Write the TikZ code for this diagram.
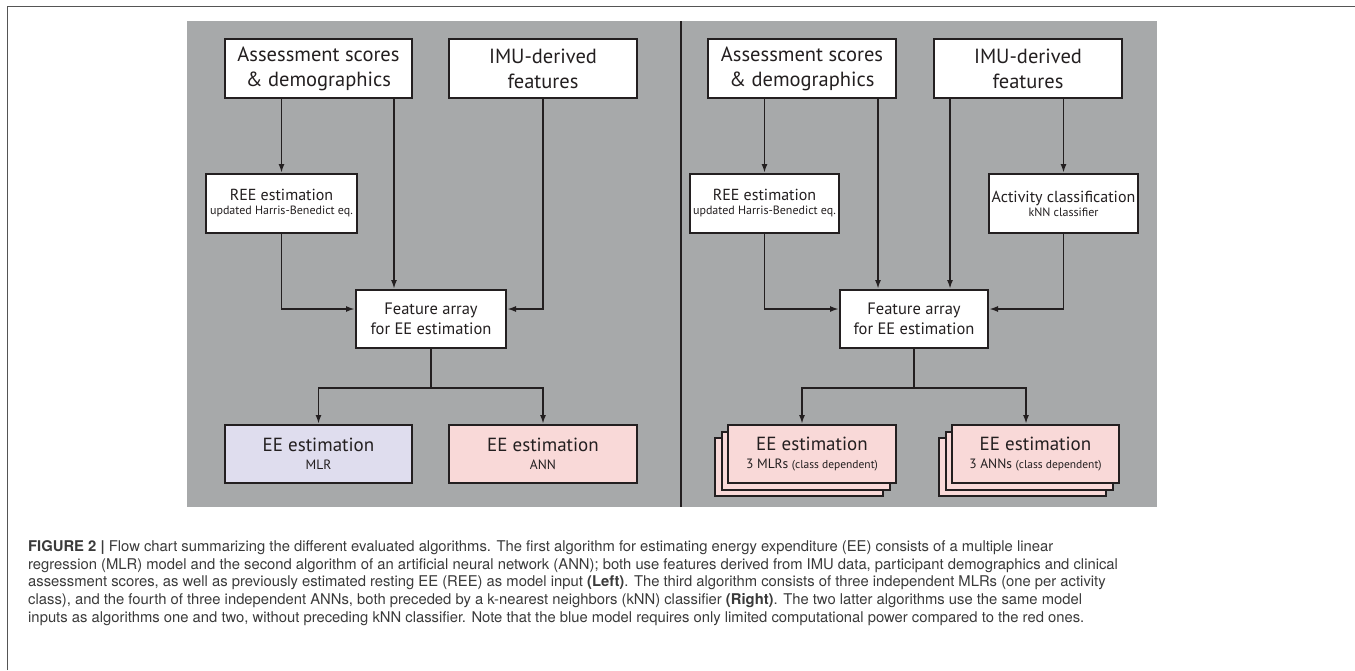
\documentclass[tikz,border=0pt]{standalone}
\usepackage{fontspec}
\setmainfont{TeX Gyre Heros}
\newfontfamily\boxfont{PT Sans}
\usetikzlibrary{arrows.meta,shadows}
\definecolor{EeInk}{HTML}{231F20}
\definecolor{EePanel}{HTML}{A7A9AA}
\definecolor{EeBlue}{HTML}{DFDDEE}
\definecolor{EeRed}{HTML}{F9D9D8}
\definecolor{EeFrame}{HTML}{555555}
\definecolor{EeCaption}{HTML}{3A3A3A}

\begin{document}
\begin{tikzpicture}[x=1pt,y=-1pt]
    \tikzset{
      box/.style={draw=EeInk, fill=white, line width=2pt, inner sep=0pt,
        align=center, text=EeInk},
      inbox/.style={box, minimum width=187pt, minimum height=59pt,
        font=\boxfont\fontsize{20.5}{25}\selectfont},
      stepbox/.style={box, minimum width=151pt, minimum height=59pt,
        font=\boxfont\fontsize{16}{16}\selectfont},
      featbox/.style={box, minimum width=150pt, minimum height=58pt,
        font=\boxfont\fontsize{16.5}{20}\selectfont},
      model/.style={box, minimum height=58pt, font=\boxfont\fontsize{19}{19}\selectfont},
      mlrbox/.style={model, minimum width=187pt, fill=EeBlue},
      annbox/.style={model, minimum width=188pt, fill=EeRed},
      stack/.style={model, minimum width=168pt, fill=EeRed,
        double copy shadow={shadow xshift=-6.5pt, shadow yshift=-6.5pt,
          fill=EeRed, draw=EeInk, line width=2pt}},
      arr/.style={-{Latex[length=9pt,width=6pt]}, draw=EeInk, line width=1.8pt}
    }
    \useasboundingbox (0,0) rectangle (1355,670);
    % frame and panel
    \draw[EeFrame, line width=1.5pt] (7.5,670) -- (7.5,6.5) -- (1355,6.5);
    \fill[EePanel] (187,21) rectangle (1157,507);
    \draw[EeInk, line width=1.8pt] (681,21) -- (681,507);
    % left: MLR / ANN
    \node[inbox] (as1) at (318.5,68.5) {Assessment scores\\\& demographics};
    \node[inbox, minimum width=188pt] (imu1) at (543,68.5) {IMU-derived\\features};
    \node[stepbox] (ree1) at (281.5,203.5)
      {REE estimation\\[-2pt]{\fontsize{12}{12}\selectfont updated Harris-Benedict eq.}};
    \node[featbox] (feat1) at (431,319) {Feature array\\for EE estimation};
    \node[mlrbox] (mlr1) at (318.5,454)
      {EE estimation\\[-1pt]{\fontsize{13.5}{13}\selectfont MLR}};
    \node[annbox] (ann1) at (543,454)
      {EE estimation\\[-1pt]{\fontsize{13.5}{13}\selectfont ANN}};
    % right: class dependent models
    \node[inbox, minimum width=188pt] (as2) at (802,68.5) {Assessment scores\\\& demographics};
    \node[inbox, minimum width=188pt] (imu2) at (1028,68.5) {IMU-derived\\features};
    \node[stepbox, minimum width=149pt] (ree2) at (764.5,203.5)
      {REE estimation\\[-2pt]{\fontsize{12}{12}\selectfont updated Harris-Benedict eq.}};
    \node[stepbox, minimum width=149pt] (act2) at (1063.5,203.5)
      {Activity classification\\[-2pt]{\fontsize{12}{12}\selectfont kNN classifier}};
    \node[featbox, minimum width=148pt] (feat2) at (914,319) {Feature array\\for EE estimation};
    \node[stack] (mlr2) at (812,454)
      {EE estimation\\[-1pt]{\fontsize{13.5}{13}\selectfont 3 MLRs {\fontsize{11.5}{13}\selectfont(class dependent)}}};
    \node[stack, minimum width=167pt] (ann2) at (1035.5,454)
      {EE estimation\\[-1pt]{\fontsize{13.5}{13}\selectfont 3 ANNs {\fontsize{11.5}{13}\selectfont(class dependent)}}};
    % connectors
    \coordinate (as1r) at ([xshift=-19pt]as1.south east);
    \coordinate (as2r) at ([xshift=-19pt]as2.south east);
    \coordinate (imu2l) at ([xshift=17pt]imu2.south west);
    \draw[arr] (ree1.north |- as1.south) -- (ree1.north);
    \draw[arr] (ree2.north |- as2.south) -- (ree2.north);
    \draw[arr] (act2.north |- imu2.south) -- (act2.north);
    \draw[arr] (as1r) -- (as1r |- feat1.north);
    \draw[arr] (as2r) -- (as2r |- feat2.north);
    \draw[arr] (imu2l) -- (imu2l |- feat2.north);
    \foreach \a/\b/\s in {ree1/feat1/west,imu1/feat1/east,ree2/feat2/west,act2/feat2/east}
      \draw[arr] (\a.south) |- ([yshift=10pt]\b.\s);
    \foreach \m in {mlr1,ann1}
      \draw[arr] (feat1.south) -- ++(0,39) -| (\m.north);
    \draw[arr] (feat2.south) -- ++(0,39) -| ([xshift=-10pt]mlr2.north);
    \draw[arr] (feat2.south) -- ++(0,39) -| ([xshift=-9.5pt]ann2.north);
    % caption
    \node[anchor=north west, inner sep=0pt, align=left, text=EeCaption,
      font=\fontsize{14.8}{17.9}\selectfont] (cap) at (28,540)
      {\textbf{FIGURE 2 |} Flow chart summarizing the different evaluated algorithms. The first algorithm for estimating energy expenditure (EE) consists of a multiple linear\\
      regression (MLR) model and the second algorithm of an artificial neural network (ANN); both use features derived from IMU data, participant demographics and clinical\\
      assessment scores, as well as previously estimated resting EE (REE) as model input \textbf{(Left)}. The third algorithm consists of three independent MLRs (one per activity\\
      class), and the fourth of three independent ANNs, both preceded by a k-nearest neighbors (kNN) classifier \textbf{(Right)}. The two latter algorithms use the same model\\
      inputs as algorithms one and two, without preceding kNN classifier. Note that the blue model requires only limited computational power compared to the red ones.};
  \end{tikzpicture}
\end{document}
